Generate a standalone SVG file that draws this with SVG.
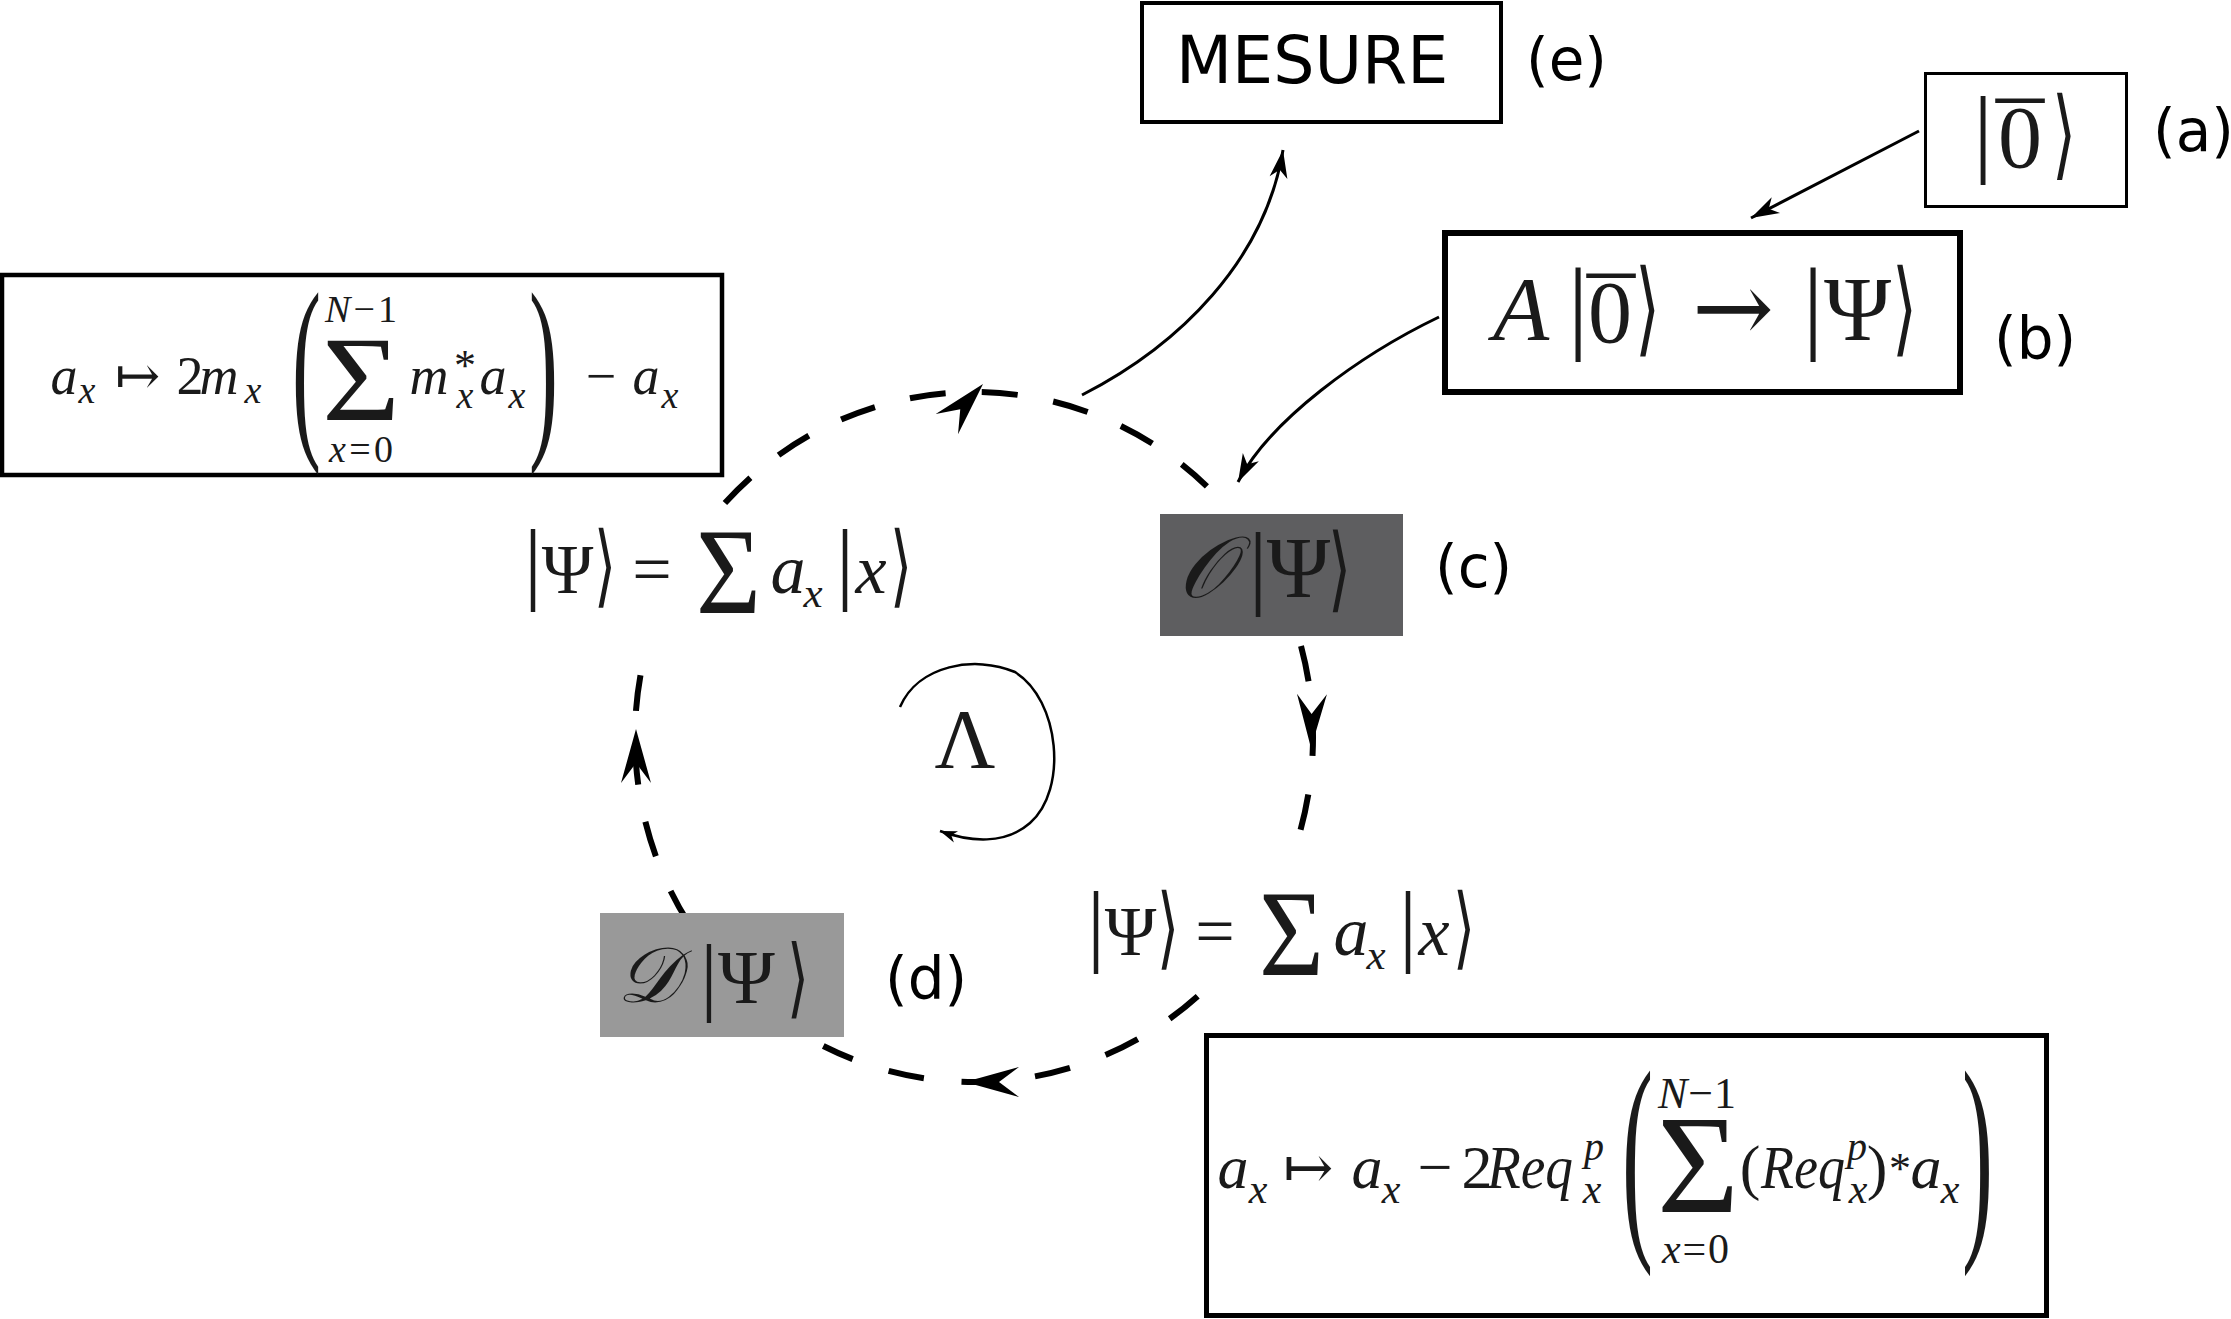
<svg xmlns="http://www.w3.org/2000/svg" width="2231" height="1319" viewBox="0 0 2231 1319">
<style>
.box{fill:#fff;stroke:#000}
.m{font-family:"Liberation Serif","DejaVu Serif","DejaVu Sans",serif;fill:#1a1a1a}
.i{font-style:italic}
.c{text-anchor:middle}
.ang{font-family:"DejaVu Sans ExtraLight","DejaVu Sans",sans-serif;font-weight:200;fill:#1a1a1a;text-anchor:middle}
.arr{font-family:"DejaVu Serif","DejaVu Sans",serif;fill:#1a1a1a}
.lbl{font-family:"DejaVu Sans",sans-serif;font-size:58px;fill:#000}
.dash{fill:none;stroke:#000;stroke-width:6}
.thin{fill:none;stroke:#000;stroke-width:3}
</style>
<defs>
<marker id="ah" viewBox="-30 -12 32 24" refX="0" refY="0" markerWidth="32" markerHeight="24" markerUnits="userSpaceOnUse" orient="auto"><path d="M0,0 L-28,-9 L-20,0 L-28,9 Z" fill="#000"/></marker>
<marker id="ahs" viewBox="-20 -8 22 16" refX="0" refY="0" markerWidth="22" markerHeight="16" markerUnits="userSpaceOnUse" orient="auto"><path d="M0,0 L-17,-6 L-12,0 L-17,6 Z" fill="#000"/></marker>
<path id="bigA" d="M0,0 L-54,-15 L-34,0 L-54,15 Z" fill="#000"/>
</defs>
<rect width="2231" height="1319" fill="#fff"/>

<g id="connectors">
<path class="dash" stroke-dasharray="36 36.1" d="M724.9,503 A339,345 0 0 1 1206.9,486.3"/>
<path class="dash" stroke-dasharray="36 38.9" d="M1301,646 A339,345 0 0 1 1299.9,832.1"/>
<path class="dash" stroke-dasharray="36 37.8" d="M1197.7,996.2 A339,345 0 0 1 823.3,1046"/>
<path class="dash" stroke-dasharray="36 37.8" d="M688.1,922.4 A339,345 0 0 1 641.1,671.8"/>
<use href="#bigA" transform="translate(983,384) rotate(-48)"/>
<use href="#bigA" transform="translate(1311,748) rotate(91)"/>
<use href="#bigA" transform="translate(965,1082) rotate(180)"/>
<use href="#bigA" transform="translate(636,729) rotate(-90)"/>
<path class="thin" marker-end="url(#ah)" d="M1082,395 C1180,345 1265,260 1283,150"/>
<path class="thin" marker-end="url(#ah)" d="M1439,317 C1360,355 1270,420 1238,482"/>
<path class="thin" marker-end="url(#ah)" d="M1919,131 L1751,218"/>
<path fill="none" stroke="#000" stroke-width="2.5" marker-end="url(#ahs)" d="M900,707 C918,665 975,655 1015,672 C1060,700 1068,790 1030,823 C1005,845 970,842 940,831"/>
</g>

<g id="mesure">
<rect class="box" x="1142" y="3" width="359" height="119" stroke-width="4"/>
<text x="1176" y="83" font-family="DejaVu Sans, sans-serif" font-size="65">MESURE</text>
<text class="lbl" x="1526" y="80">(e)</text>
</g>

<g id="ket0">
<rect class="box" x="1925.5" y="73.5" width="201" height="133" stroke-width="3"/>
<text class="m c" x="1983" y="164" font-size="98">|</text>
<text class="m c" x="2020" y="167" font-size="88">0</text>
<text class="m c" x="2020" y="171" font-size="96">¯</text>
<text class="ang" x="2064" y="167" font-size="98" textLength="24" lengthAdjust="spacingAndGlyphs">⟩</text>
<text class="lbl" x="2153" y="151">(a)</text>
</g>

<g id="aprep">
<rect class="box" x="1445" y="233" width="515" height="159" stroke-width="6"/>
<text class="m i c" x="1521" y="340" font-size="92">A</text>
<text class="m c" x="1578" y="340" font-size="103">|</text>
<text class="m c" x="1610" y="342" font-size="88">0</text>
<text class="m c" x="1611" y="346" font-size="96">¯</text>
<text class="ang" x="1647" y="343" font-size="103" textLength="25" lengthAdjust="spacingAndGlyphs">⟩</text>
<text class="arr" x="1692" y="342" font-size="100" textLength="82" lengthAdjust="spacingAndGlyphs">→</text>
<text class="m c" x="1813" y="340" font-size="103">|</text>
<text class="m c" x="1857.5" y="340" font-size="91">Ψ</text>
<text class="ang" x="1904" y="343" font-size="103" textLength="25" lengthAdjust="spacingAndGlyphs">⟩</text>
<text class="lbl" x="1994" y="359">(b)</text>
</g>

<g id="oracle">
<rect x="1160" y="514" width="243" height="122" fill="#5e5e60"/>
<text class="m i c" x="1205" y="597" font-size="86">𝒪</text>
<text class="m c" x="1258" y="597" font-size="93">|</text>
<text class="m c" x="1298.5" y="597" font-size="86">Ψ</text>
<text class="ang" x="1339" y="600" font-size="93" textLength="23" lengthAdjust="spacingAndGlyphs">⟩</text>
<text class="lbl" x="1435" y="587">(c)</text>
</g>

<g id="diffusion">
<rect x="600" y="913" width="244" height="124" fill="#999999"/>
<text class="m i c" x="648" y="1002" font-size="78">𝒟</text>
<text class="m c" x="709" y="1004" font-size="87">|</text>
<text class="m c" x="746.5" y="1003" font-size="77">Ψ</text>
<text class="ang" x="798" y="1007" font-size="87" textLength="22" lengthAdjust="spacingAndGlyphs">⟩</text>
<text class="lbl" x="885" y="999">(d)</text>
</g>

<g id="psi-top">
<text class="m c" x="533" y="593" font-size="90">|</text>
<text class="m c" x="567.5" y="593" font-size="70">Ψ</text>
<text class="ang" x="605" y="596" font-size="90" textLength="22" lengthAdjust="spacingAndGlyphs">⟩</text>
<text class="m c" x="652" y="593" font-size="70">=</text>
<text class="m" x="696" y="613" font-size="122" textLength="65" lengthAdjust="spacingAndGlyphs">Σ</text>
<text class="m i c" x="788" y="593" font-size="70">a</text>
<text class="m i c" x="813" y="607" font-size="43">x</text>
<text class="m c" x="845" y="593" font-size="90">|</text>
<text class="m i c" x="871" y="593" font-size="70">x</text>
<text class="ang" x="901" y="596" font-size="90" textLength="22" lengthAdjust="spacingAndGlyphs">⟩</text>
</g>

<g id="psi-bottom" transform="translate(563,362)">
<text class="m c" x="533" y="593" font-size="90">|</text>
<text class="m c" x="567.5" y="593" font-size="70">Ψ</text>
<text class="ang" x="605" y="596" font-size="90" textLength="22" lengthAdjust="spacingAndGlyphs">⟩</text>
<text class="m c" x="652" y="593" font-size="70">=</text>
<text class="m" x="696" y="613" font-size="122" textLength="65" lengthAdjust="spacingAndGlyphs">Σ</text>
<text class="m i c" x="788" y="593" font-size="70">a</text>
<text class="m i c" x="813" y="607" font-size="43">x</text>
<text class="m c" x="845" y="593" font-size="90">|</text>
<text class="m i c" x="871" y="593" font-size="70">x</text>
<text class="ang" x="901" y="596" font-size="90" textLength="22" lengthAdjust="spacingAndGlyphs">⟩</text>
</g>

<g id="lambda">
<text class="m c" x="965" y="768" font-size="84">Λ</text>
</g>

<g id="grover-left">
<rect class="box" x="2" y="275" width="720" height="200" stroke-width="4.5"/>
<text class="m i c" x="64" y="394" font-size="54">a</text>
<text class="m i c" x="87" y="403" font-size="38">x</text>
<text class="m c" x="137.5" y="394" font-size="54">↦</text>
<text class="m c" x="190" y="394" font-size="54">2</text>
<text class="m i c" x="219" y="394" font-size="54">m</text>
<text class="m i c" x="253" y="403" font-size="38">x</text>
<text class="m" x="292" y="431.5" font-size="202" textLength="29" lengthAdjust="spacingAndGlyphs">(</text>
<text class="m c" x="361" y="322" font-size="38" textLength="72" lengthAdjust="spacing"><tspan class="i">N</tspan>−1</text>
<text class="m" x="322" y="420" font-size="121" textLength="78" lengthAdjust="spacingAndGlyphs">Σ</text>
<text class="m c" x="361" y="462" font-size="38" textLength="64" lengthAdjust="spacing"><tspan class="i">x</tspan>=0</text>
<text class="m i c" x="429" y="394" font-size="54">m</text>
<text class="m c" x="465" y="380" font-size="44">*</text>
<text class="m i c" x="465" y="408" font-size="38">x</text>
<text class="m i c" x="493" y="394" font-size="54">a</text>
<text class="m i c" x="517" y="408" font-size="38">x</text>
<text class="m" x="529" y="431.5" font-size="202" textLength="29" lengthAdjust="spacingAndGlyphs">)</text>
<text class="m c" x="601" y="394" font-size="54">−</text>
<text class="m i c" x="646" y="394" font-size="54">a</text>
<text class="m i c" x="670" y="408" font-size="38">x</text>
</g>

<g id="req">
<rect class="box" x="1206.5" y="1035.5" width="840" height="280" stroke-width="5"/>
<text class="m i c" x="1233" y="1188" font-size="62">a</text>
<text class="m i c" x="1258" y="1203" font-size="42">x</text>
<text class="m c" x="1308.5" y="1188" font-size="60">↦</text>
<text class="m i c" x="1367" y="1188" font-size="62">a</text>
<text class="m i c" x="1391" y="1203" font-size="42">x</text>
<text class="m c" x="1435" y="1188" font-size="62">−</text>
<text class="m c" x="1477" y="1188" font-size="62">2</text>
<text class="m i" x="1487" y="1188" font-size="62" textLength="86" lengthAdjust="spacingAndGlyphs">Req</text>
<text class="m i c" x="1594" y="1160" font-size="40">p</text>
<text class="m i c" x="1592" y="1203" font-size="42">x</text>
<text class="m" x="1622" y="1228" font-size="226" textLength="31" lengthAdjust="spacingAndGlyphs">(</text>
<text class="m c" x="1697" y="1108" font-size="44" textLength="78" lengthAdjust="spacing"><tspan class="i">N</tspan>−1</text>
<text class="m" x="1657" y="1212" font-size="139" textLength="82" lengthAdjust="spacingAndGlyphs">Σ</text>
<text class="m c" x="1695.5" y="1263" font-size="42" textLength="67" lengthAdjust="spacing"><tspan class="i">x</tspan>=0</text>
<text class="m c" x="1750" y="1188" font-size="62">(</text>
<text class="m i" x="1761" y="1188" font-size="62" textLength="84" lengthAdjust="spacingAndGlyphs">Req</text>
<text class="m i c" x="1857" y="1160" font-size="40">p</text>
<text class="m i c" x="1858" y="1203" font-size="42">x</text>
<text class="m c" x="1877" y="1188" font-size="62">)</text>
<text class="m c" x="1900" y="1183" font-size="44">*</text>
<text class="m i c" x="1926" y="1188" font-size="62">a</text>
<text class="m i c" x="1950" y="1203" font-size="42">x</text>
<text class="m" x="1962" y="1228" font-size="226" textLength="31" lengthAdjust="spacingAndGlyphs">)</text>
</g>
</svg>
